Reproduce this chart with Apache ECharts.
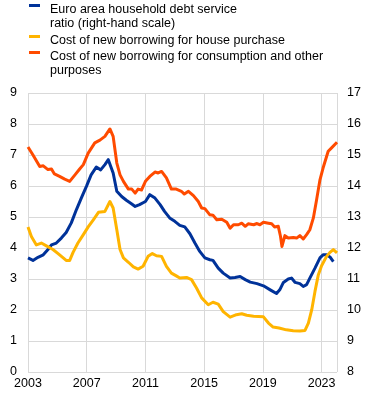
<!DOCTYPE html>
<html>
<head>
<meta charset="utf-8">
<script src="https://cdn.jsdelivr.net/npm/echarts@6/dist/echarts.min.js"></script>
<style>
html,body{margin:0;padding:0;background:#fff;}
#chart{width:371px;height:399px;}
</style>
</head>
<body>
<div id="chart"></div>
<script>
// Legend / series names
const seriesNames = [
  'Euro area household debt service\nratio (right-hand scale)',
  'Cost of new borrowing for house purchase',
  'Cost of new borrowing for consumption and other\npurposes'
];

// Euro area household debt service ratio (right-hand scale, %)
const dsrDates = [2003.0, 2003.34, 2003.68, 2004.04, 2004.36, 2004.6, 2004.93, 2005.27, 2005.6, 2005.95,
  2006.3, 2006.63, 2006.98, 2007.3, 2007.65, 2007.95, 2008.24, 2008.47, 2008.8, 2009.05,
  2009.38, 2009.7, 2010.07, 2010.3, 2010.6, 2011.0, 2011.3, 2011.65, 2012.0, 2012.3,
  2012.65, 2013.0, 2013.34, 2013.68, 2014.03, 2014.37, 2014.7, 2015.05, 2015.39, 2015.6,
  2015.96, 2016.3, 2016.77, 2017.1, 2017.45, 2017.8, 2018.14, 2018.6, 2019.04, 2019.5,
  2019.93, 2020.15, 2020.4, 2020.73, 2020.95, 2021.2, 2021.52, 2021.75, 2021.98, 2022.2,
  2022.55, 2022.89, 2023.1, 2023.34, 2023.57, 2023.8];
const dsrValues = [11.68, 11.6, 11.7, 11.78, 11.95, 12.1, 12.16, 12.32, 12.5, 12.81,
  13.24, 13.61, 13.99, 14.36, 14.61, 14.52, 14.69, 14.85, 14.42, 13.83,
  13.66, 13.54, 13.42, 13.34, 13.4, 13.5, 13.72, 13.61, 13.4, 13.18,
  12.97, 12.86, 12.73, 12.68, 12.46, 12.16, 11.89, 11.68, 11.62, 11.6,
  11.35, 11.19, 11.03, 11.05, 11.08, 10.98, 10.9, 10.85, 10.78, 10.65,
  10.53, 10.65, 10.89, 11.0, 11.03, 10.89, 10.85, 10.76, 10.82, 11.03,
  11.35, 11.68, 11.78, 11.78, 11.71, 11.56];

// Cost of new borrowing for house purchase (%)
const houseDates = [2003.0, 2003.23, 2003.57, 2003.91, 2004.25, 2004.7, 2005.05, 2005.4, 2005.6, 2005.84,
  2006.07, 2006.4, 2006.77, 2007.1, 2007.45, 2007.8, 2008.24, 2008.58, 2008.8, 2009.05,
  2009.27, 2009.5, 2009.84, 2010.18, 2010.5, 2010.84, 2011.18, 2011.47, 2011.75, 2012.1,
  2012.43, 2012.77, 2013.1, 2013.34, 2013.8, 2014.14, 2014.48, 2014.83, 2015.28, 2015.6,
  2015.96, 2016.3, 2016.77, 2017.2, 2017.56, 2017.9, 2018.37, 2019.04, 2019.38, 2019.7,
  2020.1, 2020.6, 2021.07, 2021.52, 2021.87, 2022.1, 2022.33, 2022.55, 2022.78, 2023.0,
  2023.34, 2023.57, 2023.8, 2024.05];
const houseValues = [4.68, 4.37, 4.1, 4.16, 4.07, 3.95, 3.82, 3.68, 3.6, 3.6,
  3.86, 4.16, 4.43, 4.68, 4.91, 5.15, 5.18, 5.5, 5.29, 4.59,
  3.95, 3.68, 3.54, 3.39, 3.32, 3.41, 3.73, 3.82, 3.75, 3.73,
  3.41, 3.19, 3.1, 3.03, 3.05, 2.98, 2.71, 2.39, 2.17, 2.25,
  2.19, 1.95, 1.77, 1.85, 1.88, 1.83, 1.8, 1.78, 1.58, 1.45,
  1.42, 1.36, 1.33, 1.32, 1.34, 1.58, 2.01, 2.6, 3.14, 3.43,
  3.73, 3.86, 3.95, 3.84];

// Cost of new borrowing for consumption and other purposes (%)
const consDates = [2003.0, 2003.34, 2003.8, 2004.04, 2004.36, 2004.6, 2004.8, 2005.15, 2005.5, 2005.84,
  2006.2, 2006.52, 2006.77, 2007.1, 2007.55, 2007.9, 2008.24, 2008.58, 2008.8, 2009.05,
  2009.27, 2009.5, 2009.84, 2010.07, 2010.3, 2010.5, 2010.73, 2011.0, 2011.3, 2011.65,
  2011.87, 2012.1, 2012.43, 2012.77, 2013.1, 2013.45, 2013.65, 2013.93, 2014.27, 2014.6,
  2014.83, 2015.05, 2015.39, 2015.6, 2015.86, 2016.2, 2016.54, 2016.77, 2017.0, 2017.33,
  2017.56, 2017.8, 2018.0, 2018.37, 2018.6, 2018.8, 2019.04, 2019.38, 2019.6, 2019.8,
  2020.05, 2020.2, 2020.3, 2020.5, 2020.73, 2021.07, 2021.3, 2021.52, 2021.75, 2021.98,
  2022.2, 2022.44, 2022.66, 2022.89, 2023.1, 2023.45, 2023.68, 2024.05];
const consValues = [7.26, 7.0, 6.63, 6.65, 6.53, 6.55, 6.39, 6.31, 6.22, 6.15,
  6.36, 6.55, 6.69, 7.06, 7.39, 7.48, 7.6, 7.84, 7.6, 6.74,
  6.36, 6.15, 5.9, 5.9, 5.77, 5.9, 5.87, 6.15, 6.31, 6.45,
  6.42, 6.47, 6.26, 5.9, 5.9, 5.83, 5.74, 5.83, 5.69, 5.5,
  5.29, 5.27, 5.07, 5.06, 4.91, 4.93, 4.83, 4.64, 4.75, 4.75,
  4.8, 4.7, 4.78, 4.75, 4.79, 4.75, 4.83, 4.8, 4.78, 4.68,
  4.7, 4.38, 4.05, 4.4, 4.32, 4.34, 4.32, 4.4, 4.29, 4.43,
  4.59, 4.97, 5.56, 6.2, 6.58, 7.12, 7.23, 7.41];

const leftTicks = {min: 0, max: 9, interval: 1};
const rightTicks = {min: 8, max: 17, interval: 1};
const yearTicks = {min: 2003, max: 2024.05, interval: 4};

const colors = ['#003299', '#FFB400', '#FF4B00'];
const FONT = 'Liberation Sans, Arial, sans-serif';

function pairs(xs, ys) { return xs.map((x, i) => [x, ys[i]]); }

const chart = echarts.init(document.getElementById('chart'), null, {renderer: 'canvas'});

const legendTop = [3, 34, 50];
const legendGraphics = [];
seriesNames.forEach((name, i) => {
  legendGraphics.push({
    type: 'rect', left: 29, top: legendTop[i] + 1,
    shape: {width: 11, height: 3},
    style: {fill: colors[i]}
  });
  legendGraphics.push({
    type: 'text', left: 50, top: legendTop[i],
    style: {text: name, font: '12.5px ' + FONT, fill: '#000', lineHeight: 13.5}
  });
});

chart.setOption({
  animation: false,
  backgroundColor: '#fff',
  color: colors,
  grid: {left: 28, right: 34, top: 93, bottom: 27, containLabel: false},
  graphic: legendGraphics,
  xAxis: {
    type: 'value',
    min: yearTicks.min, max: yearTicks.max, interval: yearTicks.interval,
    axisLine: {show: false},
    axisTick: {show: false},
    axisLabel: {
      showMaxLabel: false, margin: 5,
      color: '#000', fontSize: 12.5, fontFamily: FONT,
      formatter: v => String(Math.round(v))
    },
    splitLine: {show: true, lineStyle: {color: '#d9d9d9', width: 1}}
  },
  yAxis: [
    {
      type: 'value', position: 'left',
      min: leftTicks.min, max: leftTicks.max, interval: leftTicks.interval,
      axisLine: {show: false}, axisTick: {show: false},
      axisLabel: {color: '#000', fontSize: 12.5, fontFamily: FONT, margin: 11},
      splitLine: {show: true, lineStyle: {color: '#d9d9d9', width: 1}}
    },
    {
      type: 'value', position: 'right',
      min: rightTicks.min, max: rightTicks.max, interval: rightTicks.interval,
      axisLine: {show: false}, axisTick: {show: false},
      axisLabel: {color: '#000', fontSize: 12.5, fontFamily: FONT, margin: 10},
      splitLine: {show: false}
    }
  ],
  series: [
    {
      name: seriesNames[0], type: 'line', yAxisIndex: 1,
      data: pairs(dsrDates, dsrValues),
      showSymbol: false, symbol: 'none',
      lineStyle: {width: 3, color: colors[0], join: 'round'}
    },
    {
      name: seriesNames[1], type: 'line', yAxisIndex: 0,
      data: pairs(houseDates, houseValues),
      showSymbol: false, symbol: 'none',
      lineStyle: {width: 3, color: colors[1], join: 'round'}
    },
    {
      name: seriesNames[2], type: 'line', yAxisIndex: 0,
      data: pairs(consDates, consValues),
      showSymbol: false, symbol: 'none',
      lineStyle: {width: 3, color: colors[2], join: 'round'}
    }
  ]
});
</script>
</body>
</html>
